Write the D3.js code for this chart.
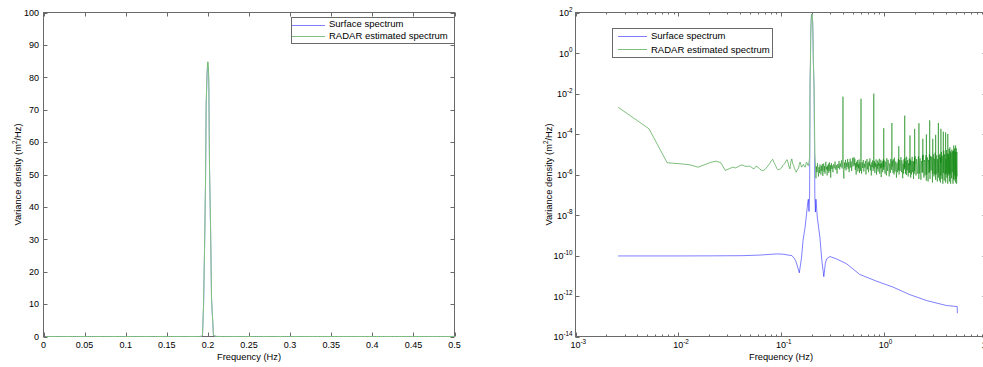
<!DOCTYPE html>
<html>
<head>
<meta charset="utf-8">
<script src="https://cdn.jsdelivr.net/npm/d3@7"></script>
<style>
  html, body { margin: 0; padding: 0; background: #fff; }
  text { font-family: "Liberation Sans", Arial, Helvetica, sans-serif; fill: #000; }
</style>
</head>
<body>
<svg id="chart" width="983" height="367"></svg>
<script>
// Spectra: [frequency (Hz), variance density (m^2/Hz)]
const surfaceSpectrum = [
  [0.0026,9.5e-11],[0.0052,9.5e-11],[0.0104,9.5e-11],[0.0208,9.6e-11],[0.0416,9.8e-11],
  [0.0624,1.05e-10],[0.0806,1.15e-10],[0.0936,1.2e-10],[0.1066,1.15e-10],[0.1170,1.05e-10],
  [0.1274,1.0e-10],[0.1352,7.0e-11],[0.1404,4.7e-11],[0.1456,2.6e-11],[0.1508,1.4e-11],
  [0.1586,8.3e-11],[0.1638,5.5e-10],[0.1716,2.5e-9],[0.1768,1.0e-8],[0.1820,4.0e-8],
  [0.1846,6.0e-8],[0.1872,1.5e-8],[0.1898,8.5e-8],
  [0.1920,0.04],[0.1934,0.25],[0.1947,9],[0.1959,26],[0.1971,47],[0.1979,71],[0.1990,81],
  [0.2000,83.5],[0.2007,82],[0.2012,76],[0.2020,51],[0.2032,34],[0.2044,11.5],[0.2068,0.25],
  [0.2100,0.015],[0.2136,8.0e-8],[0.2162,1.4e-8],[0.2188,6.0e-8],[0.2254,8.0e-9],
  [0.2390,8.0e-10],[0.2500,5.6e-11],[0.2610,9.0e-12],[0.2700,4.0e-11],[0.2780,6.8e-11],
  [0.2990,8.9e-11],[0.3462,6.8e-11],[0.4348,3.9e-11],[0.5856,1.15e-11],[0.8506,5.4e-12],
  [1.23,2.75e-12],[1.79,1.17e-12],[2.60,6.0e-13],[4.06,3.4e-13],[5.19,3.0e-13],[5.20,1.4e-13]
];

const radarSpectrum = [
  [0.0026,2.1e-3],[0.0052,1.8e-4],[0.0078,3.8e-6],[0.0104,3.4e-6],[0.0130,3.0e-6],
  [0.0156,2.3e-6],[0.0182,3.1e-6],[0.0208,4.0e-6],[0.0234,4.6e-6],[0.0260,3.8e-6],
  [0.0286,1.6e-6],[0.0312,1.9e-6],[0.0338,2.3e-6],[0.0364,2.1e-6],[0.0390,2.6e-6],
  [0.0416,3.0e-6],[0.0442,2.6e-6],[0.0468,2.5e-6],[0.0494,2.6e-6],[0.0520,2.2e-6],
  [0.0546,1.9e-6],[0.0572,2.6e-6],[0.0598,2.3e-6],[0.0624,1.8e-6],[0.0650,1.6e-6],
  [0.0676,1.6e-6],[0.0702,1.8e-6],[0.0728,2.3e-6],[0.0754,2.8e-6],[0.0780,3.6e-6],
  [0.0806,4.8e-6],[0.0832,5.6e-6],[0.0858,3.8e-6],[0.0884,2.8e-6],[0.0910,2.0e-6],
  [0.0936,1.7e-6],[0.0962,1.8e-6],[0.0988,1.9e-6],[0.1014,2.1e-6],[0.1040,2.8e-6],
  [0.1066,3.2e-6],[0.1092,3.6e-6],[0.1118,4.6e-6],[0.1144,5.4e-6],[0.1170,4.0e-6],
  [0.1196,2.4e-6],[0.1222,1.9e-6],[0.1248,4.2e-6],[0.1274,5.9e-6],[0.1300,3.5e-6],
  [0.1326,2.8e-6],[0.1352,2.0e-6],[0.1378,1.6e-6],[0.1404,1.3e-6],[0.1430,1.6e-6],
  [0.1456,1.9e-6],[0.1482,2.0e-6],[0.1508,3.2e-6],[0.1534,4.1e-6],[0.1560,3.0e-6],
  [0.1586,2.3e-6],[0.1612,2.6e-6],[0.1638,3.1e-6],[0.1664,3.0e-6],[0.1690,2.5e-6],
  [0.1716,2.3e-6],[0.1742,3.0e-6],[0.1768,4.0e-6],[0.1794,3.8e-6],[0.1820,2.9e-6],
  [0.1846,2.7e-6],[0.1872,4.0e-6],[0.1898,7.1e-6],
  [0.1920,0.05],[0.1934,0.3],[0.1947,10],[0.1959,27],[0.1971,48],[0.1979,72],[0.1990,82],
  [0.2000,84.8],[0.2007,83],[0.2012,76.6],[0.2020,52],[0.2032,35],[0.2044,12],[0.2068,0.3],
  [0.2100,0.02],[0.2136,1.0e-5],
  [0.2162,3.2e-6],[0.2188,6.5e-7],[0.2214,2.5e-6],[0.2240,1.3e-6],[0.2266,3.6e-6],
  [0.2292,1.7e-6],[0.2318,8.0e-7],[0.2344,2.3e-6],[0.2370,1.2e-6],[0.2396,3.1e-6],
  [0.2422,1.9e-6],[0.2448,1.0e-6],[0.2474,2.7e-6],[0.2500,1.5e-6],[0.2526,3.3e-6],
  [0.2552,8.5e-7],[0.2578,2.0e-6],[0.2604,3.5e-6],[0.2630,1.4e-6],[0.2656,2.6e-6],
  [0.2682,1.1e-6],[0.2708,2.9e-6],[0.2734,4.3e-6],[0.2760,1.8e-6],[0.2786,2.4e-6],
  [0.2812,9.0e-7],[0.2838,2.7e-6],[0.2864,1.6e-6],[0.2890,3.4e-6],[0.2916,1.2e-6],
  [0.2942,2.2e-6],[0.2968,4.0e-6],[0.2994,1.5e-6],[0.3020,2.9e-6],[0.3046,7.0e-7],
  [0.3072,2.3e-6],[0.3098,3.6e-6],[0.3124,1.9e-6],[0.3150,2.8e-6],[0.3202,1.3e-6],
  [0.3254,3.2e-6],[0.3306,2.0e-6],[0.3358,4.4e-6],[0.3410,1.7e-6],[0.3462,2.9e-6],
  [0.3514,1.1e-6],[0.3566,3.3e-6],[0.3618,2.1e-6],[0.3670,4.6e-6],[0.3722,1.8e-6],
  [0.3774,3.5e-6],[0.3826,2.4e-6],[0.3878,5.0e-6],[0.3930,2.0e-6],[0.3982,3.7e-6],
  [0.4010,7.0e-3],[0.4036,2.2e-6],[0.4088,6.3e-7],[0.4140,3.9e-6],[0.4192,2.0e-6],
  [0.4244,5.3e-6],[0.4296,1.6e-6],[0.4348,3.8e-6],[0.4400,2.4e-6],[0.4452,5.8e-6],
  [0.4504,1.9e-6],[0.4556,4.1e-6],[0.4608,1.3e-6],[0.4660,3.5e-6],[0.4712,6.1e-6],
  [0.4764,2.2e-6],[0.4816,4.4e-6],[0.4868,1.5e-6],[0.4920,3.2e-6],[0.4972,6.6e-6],
  [0.5024,2.5e-6],[0.5076,4.0e-6],[0.5128,7.2e-6],[0.5180,2.8e-6],[0.5232,6.0e-6],
  [0.5284,1.7e-6],[0.5336,3.6e-6],[0.5388,1.0e-6],[0.5440,4.2e-6],[0.5492,2.3e-6],
  [0.5544,5.1e-6],[0.5596,1.4e-6],[0.5648,3.3e-6],[0.5700,2.0e-6],[0.5752,5.5e-6],
  [0.5804,1.2e-6],[0.5856,3.9e-6],[0.5908,2.6e-6],[0.5960,1.5e-6],
  [0.6010,5.5e-3],[0.6036,2.4e-6],[0.6088,1.1e-6],[0.6166,4.0e-6],[0.6244,2.1e-6],
  [0.6322,5.2e-6],[0.6400,1.4e-6],[0.6478,3.4e-6],[0.6556,2.2e-6],[0.6634,4.7e-6],
  [0.6712,1.0e-6],[0.6790,3.0e-6],[0.6868,5.8e-6],[0.6946,1.8e-6],[0.7024,3.9e-6],
  [0.7102,1.3e-6],[0.7180,4.4e-6],[0.7258,2.6e-6],[0.7336,6.2e-6],[0.7414,1.6e-6],
  [0.7492,3.1e-6],[0.7570,9.0e-7],[0.7648,4.0e-6],[0.7726,2.3e-6],[0.7804,5.0e-6],
  [0.7882,1.5e-6],[0.7960,3.5e-6],
  [0.8000,9.8e-3],[0.8038,2.0e-6],[0.8116,4.6e-6],[0.8194,1.2e-6],[0.8272,3.7e-6],
  [0.8350,2.4e-6],[0.8428,5.6e-6],[0.8506,1.0e-6],[0.8584,3.2e-6],[0.8662,1.9e-6],
  [0.8740,4.9e-6],[0.8818,1.4e-6],[0.8896,3.8e-6],[0.8974,2.7e-6],[0.9052,6.0e-6],
  [0.9130,1.1e-6],[0.9208,3.3e-6],[0.9286,2.0e-6],[0.9364,5.3e-6],[0.9442,7.5e-7],
  [0.9520,3.6e-6],[0.9598,2.2e-6],[0.9676,4.5e-6],[0.9754,1.3e-6],[0.9832,3.0e-6],
  [0.9910,5.7e-6],[0.9970,1.7e-6],
  [1.000,1.95e-4],[1.003,2.3e-6],[1.010,5.0e-6],[1.020,1.6e-6],[1.030,1.1e-6],
  [1.040,4.3e-6],[1.050,3.6e-6],[1.060,9.0e-7],[1.070,6.4e-6],[1.080,2.7e-6],
  [1.090,1.5e-6],[1.100,5.3e-6],[1.110,4.2e-6],[1.120,1.9e-6],[1.130,8.0e-7],
  [1.140,3.5e-6],[1.150,2.9e-6],[1.160,1.2e-6],[1.170,5.9e-6],[1.180,3.1e-6],
  [1.190,1.7e-6],[1.197,3.0e-6],[1.200,3.5e-4],[1.203,2.5e-6],[1.210,4.8e-6],
  [1.220,2.0e-6],[1.230,1.2e-6],[1.240,5.6e-6],[1.250,3.3e-6],[1.260,1.0e-6],
  [1.270,6.8e-6],[1.280,2.6e-6],[1.290,1.4e-6],[1.300,4.0e-6],[1.310,4.4e-6],
  [1.320,1.8e-6],[1.330,7.0e-7],[1.340,3.2e-6],[1.350,3.8e-6],[1.360,1.3e-6],
  [1.370,2.1e-6],[1.380,4.9e-6],[1.390,6.0e-6],[1.397,1.6e-6],[1.400,2.5e-5],
  [1.403,3.2e-6],[1.410,1.0e-6],[1.420,4.6e-6],[1.430,5.2e-6],[1.440,1.5e-6],
  [1.450,2.4e-6],[1.460,3.9e-6],[1.470,7.2e-6],[1.480,2.2e-6],[1.490,1.3e-6],
  [1.500,5.0e-6],[1.510,4.0e-6],[1.520,1.7e-6],[1.530,6.5e-7],[1.540,3.4e-6],
  [1.550,3.1e-6],[1.560,1.1e-6],[1.570,5.6e-6],[1.580,2.9e-6],[1.590,1.8e-6],
  [1.597,4.4e-6],[1.600,8.1e-4],[1.603,2.2e-6],[1.610,6.6e-6],[1.620,2.4e-6],
  [1.630,1.1e-6],[1.640,4.5e-6],[1.650,3.7e-6],[1.660,9.5e-7],[1.670,7.6e-6],
  [1.680,2.8e-6],[1.690,1.6e-6],[1.700,5.2e-6],[1.710,4.9e-6],[1.720,1.4e-6],
  [1.730,8.0e-7],[1.740,3.6e-6],[1.750,3.4e-6],[1.760,1.2e-6],[1.770,6.2e-6],
  [1.780,2.5e-6],[1.790,1.2e-6],[1.797,3.9e-6],[1.800,8.5e-5],[1.803,2.8e-6],
  [1.810,5.4e-6],[1.820,2.1e-6],[1.830,7.0e-7],[1.840,4.7e-6],[1.850,4.1e-6],
  [1.860,1.0e-6],[1.870,2.0e-6],[1.880,5.5e-6],[1.890,7.4e-6],[1.900,2.3e-6],
  [1.910,1.3e-6],[1.920,3.8e-6],[1.930,4.6e-6],[1.940,1.6e-6],[1.950,6.0e-7],
  [1.960,4.2e-6],[1.970,3.5e-6],[1.980,1.1e-6],[1.990,6.9e-6],[1.997,1.5e-6],
  [2.000,1.8e-4],[2.003,3.3e-6],[2.02,8.0e-6],[2.04,2.6e-6],[2.06,9.0e-7],
  [2.08,5.8e-6],[2.10,4.5e-6],[2.12,1.1e-6],[2.14,1.5e-6],[2.16,6.4e-6],
  [2.18,7.8e-6],[2.19,2.0e-6],[2.197,6.0e-7],[2.200,3.4e-4],[2.203,5.0e-6],
  [2.22,1.1e-6],[2.24,3.4e-6],[2.26,6.3e-6],[2.28,1.8e-6],[2.30,5.5e-7],
  [2.32,4.6e-6],[2.34,3.8e-6],[2.36,1.3e-6],[2.38,8.5e-6],[2.39,3.0e-6],
  [2.397,1.2e-6],[2.400,5.8e-5],[2.403,4.2e-6],[2.42,9.5e-6],[2.44,2.2e-6],
  [2.46,7.0e-7],[2.48,4.1e-6],[2.50,5.2e-6],[2.52,9.0e-7],[2.54,1.4e-6],
  [2.56,6.6e-6],[2.58,9.0e-6],[2.59,2.4e-6],[2.597,5.0e-7],[2.600,9.5e-5],
  [2.603,4.0e-6],[2.62,1.0e-6],[2.64,5.0e-6],[2.66,7.0e-6],[2.68,1.9e-6],
  [2.70,4.5e-7],[2.72,5.3e-6],[2.74,3.6e-6],[2.76,1.2e-6],[2.78,1.0e-5],
  [2.79,3.3e-6],[2.797,1.3e-6],[2.800,4.7e-4],[2.803,6.0e-6],[2.82,6.0e-7],
  [2.84,3.9e-6],[2.86,8.2e-6],[2.88,2.1e-6],[2.90,1.6e-6],[2.92,7.4e-6],
  [2.94,5.6e-6],[2.96,1.4e-6],[2.98,4.0e-7],[2.99,4.4e-6],[2.997,7.5e-6],
  [3.000,5.8e-5],[3.003,1.1e-6],[3.02,4.8e-6],[3.04,9.8e-6],[3.06,2.7e-6],
  [3.08,8.0e-7],[3.10,6.0e-6],[3.12,4.8e-6],[3.14,1.0e-6],[3.16,1.2e-5],
  [3.18,3.1e-6],[3.19,9.0e-7],[3.197,5.5e-7],[3.200,9.1e-5],[3.203,6.6e-6],
  [3.22,2.3e-6],[3.24,1.0e-6],[3.26,6.9e-6],[3.28,8.8e-6],[3.30,1.7e-6],
  [3.32,4.5e-7],[3.34,5.7e-6],[3.36,4.2e-6],[3.38,1.2e-6],[3.397,1.1e-5],
  [3.400,3.5e-4],[3.403,7.0e-7],[3.42,3.0e-6],[3.44,5.8e-6],[3.46,9.0e-6],
  [3.48,1.4e-6],[3.50,5.0e-7],[3.52,1.05e-5],[3.54,3.7e-6],[3.56,4.0e-7],
  [3.58,7.0e-6],[3.597,3.8e-6],[3.600,1.8e-4],[3.603,9.0e-7],[3.62,4.4e-6],
  [3.64,1.3e-5],[3.66,2.0e-6],[3.68,6.0e-7],[3.70,8.6e-6],[3.72,6.5e-6],
  [3.74,1.5e-6],[3.76,3.5e-7],[3.78,4.8e-6],[3.797,9.0e-6],[3.800,1.3e-4],
  [3.803,1.2e-6],[3.82,5.2e-6],[3.84,1.5e-5],[3.86,2.4e-6],[3.88,5.0e-7],
  [3.90,9.8e-6],[3.92,7.2e-6],[3.94,1.8e-6],[3.96,1.0e-6],[3.98,6.3e-6],
  [3.997,1.1e-5],[4.000,1.2e-4],[4.003,4.0e-7],[4.02,3.3e-6],[4.04,6.0e-6],
  [4.06,1.1e-6],[4.08,1.6e-5],[4.10,4.6e-6],[4.12,7.0e-7],[4.14,1.1e-5],
  [4.16,8.5e-6],[4.18,1.6e-6],[4.197,3.5e-7],[4.200,1.0e-4],[4.203,1.2e-5],
  [4.22,3.6e-6],[4.24,9.0e-7],[4.26,1.0e-5],[4.28,5.5e-6],[4.30,1.2e-6],
  [4.32,1.8e-5],[4.34,2.9e-6],[4.36,4.5e-7],[4.38,6.4e-6],[4.397,7.8e-6],
  [4.400,2.2e-5],[4.403,1.0e-6],[4.42,5.8e-6],[4.44,1.4e-5],[4.46,2.2e-6],
  [4.48,3.5e-7],[4.50,1.2e-5],[4.52,9.5e-6],[4.54,1.9e-6],[4.56,6.5e-7],
  [4.58,7.6e-6],[4.60,1.7e-5],[4.62,3.4e-6],[4.64,1.3e-6],[4.66,1.4e-5],
  [4.68,8.0e-6],[4.70,1.0e-6],[4.72,3.5e-7],[4.74,6.8e-6],[4.76,1.5e-5],
  [4.78,2.7e-6],[4.797,6.0e-7],[4.800,2.7e-5],[4.803,1.1e-5],[4.82,3.0e-6],
  [4.84,5.0e-7],[4.86,9.2e-6],[4.88,1.9e-5],[4.90,2.0e-6],[4.92,9.0e-7],
  [4.94,1.3e-5],[4.96,1.1e-5],[4.98,1.5e-6],[4.997,4.0e-7],[5.000,2.7e-5],
  [5.003,1.6e-5],[5.02,3.8e-6],[5.04,6.0e-7],[5.06,1.0e-5],[5.08,2.0e-5],
  [5.10,2.4e-6],[5.12,3.5e-7],[5.14,8.0e-6],[5.16,1.3e-5],[5.18,1.8e-6],
  [5.20,8.0e-7]
];

const seriesNames = ["Surface spectrum", "RADAR estimated spectrum"];
const seriesColors = ["#0000ff", "#008000"];

// Axis ticks
const linearFreqTicks = [0, 0.05, 0.1, 0.15, 0.2, 0.25, 0.3, 0.35, 0.4, 0.45, 0.5];
const linearFreqLabels = ["0", "0.05", "0.1", "0.15", "0.2", "0.25", "0.3", "0.35", "0.4", "0.45", "0.5"];
const linearDensityTicks = [0, 10, 20, 30, 40, 50, 60, 70, 80, 90, 100];
const linearDensityLabels = ["0", "10", "20", "30", "40", "50", "60", "70", "80", "90", "100"];
const logFreqTicks = [1e-3, 1e-2, 1e-1, 1e0, 1e1];
const logFreqExponents = ["-3", "-2", "-1", "0", "1"];
const logDensityTicks = [1e2, 1e0, 1e-2, 1e-4, 1e-6, 1e-8, 1e-10, 1e-12, 1e-14];
const logDensityExponents = ["2", "0", "-2", "-4", "-6", "-8", "-10", "-12", "-14"];

const xLabel = "Frequency (Hz)";
const yLabelMain = "Variance density (m";
const yLabelSup = "2";
const yLabelTail = "/Hz)";

const svg = d3.select("#chart");
const AXIS_COLOR = "#6a6a6a";
const TICK_FONT = 9;
const LABEL_FONT = 9.3;

function makePanel(id, left, right, top, bottom) {
  const g = svg.append("g");
  svg.append("clipPath").attr("id", id)
    .append("rect")
    .attr("x", left - 0.5).attr("y", top - 1)
    .attr("width", right - left + 1).attr("height", bottom - top + 1.5);
  return g;
}

// Each segment is its own stroke so that dense stretches build up colour.
function drawSeries(plot, data, x, y, color, knockout) {
  if (knockout) {
    // hide whatever is underneath this trace
    plot.append("path")
      .datum(data)
      .attr("d", d3.line().x(d => x(d[0])).y(d => y(d[1])))
      .attr("fill", "none").attr("stroke", "#fff").attr("stroke-width", 1);
  }
  plot.append("g")
    .selectAll("line")
    .data(d3.pairs(data))
    .join("line")
    .attr("x1", d => x(d[0][0])).attr("y1", d => y(d[0][1]))
    .attr("x2", d => x(d[1][0])).attr("y2", d => y(d[1][1]))
    .attr("stroke", color)
    .attr("stroke-opacity", 0.5)
    .attr("stroke-width", 1);
}

function drawBox(g, left, right, top, bottom) {
  g.append("rect")
    .attr("x", left).attr("y", top)
    .attr("width", right - left).attr("height", bottom - top)
    .attr("fill", "none").attr("stroke", AXIS_COLOR).attr("stroke-width", 1);
}

function xTicks(g, vals, x, top, bottom, len) {
  const t = g.append("g").attr("stroke", AXIS_COLOR).attr("stroke-width", 1);
  vals.forEach(v => {
    const px = Math.round(x(v)) + 0.5;
    t.append("line").attr("x1", px).attr("x2", px).attr("y1", bottom).attr("y2", bottom - len);
    t.append("line").attr("x1", px).attr("x2", px).attr("y1", top).attr("y2", top + len);
  });
}

function yTicks(g, vals, y, left, right, len) {
  const t = g.append("g").attr("stroke", AXIS_COLOR).attr("stroke-width", 1);
  vals.forEach(v => {
    const py = Math.round(y(v)) + 0.5;
    t.append("line").attr("y1", py).attr("y2", py).attr("x1", left).attr("x2", left + len);
    t.append("line").attr("y1", py).attr("y2", py).attr("x1", right).attr("x2", right - len);
  });
}

function axisTitles(g, cx, cy, yx) {
  g.append("text")
    .attr("x", cx).attr("y", 360)
    .attr("text-anchor", "middle")
    .style("font-size", LABEL_FONT + "px")
    .text(xLabel);
  const yt = g.append("text")
    .attr("transform", `translate(${yx},${cy}) rotate(-90)`)
    .attr("text-anchor", "middle")
    .style("font-size", LABEL_FONT + "px");
  yt.append("tspan").text(yLabelMain);
  yt.append("tspan").attr("dy", -3.5).style("font-size", "6.5px").text(yLabelSup);
  yt.append("tspan").attr("dy", 3.5).text(yLabelTail);
}

function legend(g, box, rows) {
  g.append("rect")
    .attr("x", box.x).attr("y", box.y).attr("width", box.w).attr("height", box.h)
    .attr("fill", "#fff").attr("stroke", AXIS_COLOR).attr("stroke-width", 1);
  seriesNames.forEach((name, i) => {
    g.append("line")
      .attr("x1", rows.lx1).attr("x2", rows.lx2)
      .attr("y1", rows.ly[i]).attr("y2", rows.ly[i])
      .attr("stroke", seriesColors[i]).attr("stroke-opacity", 0.5).attr("stroke-width", 1);
    g.append("text")
      .attr("x", rows.tx).attr("y", rows.ty[i])
      .style("font-size", "9.5px")
      .text(name);
  });
}

// ---------- Linear panel ----------
{
  const left = 43.5, right = 454.5, top = 12.5, bottom = 336.5;
  const x = d3.scaleLinear().domain(d3.extent(linearFreqTicks)).range([left, right]);
  const y = d3.scaleLinear().domain(d3.extent(linearDensityTicks)).range([bottom, top]);
  const g = makePanel("clipLin", left, right, top, bottom);

  drawBox(g, left, right, top, bottom);
  xTicks(g, linearFreqTicks, x, top, bottom, 4);
  yTicks(g, linearDensityTicks, y, left, right, 4);

  g.append("g").selectAll("text").data(linearFreqTicks).join("text")
    .attr("x", d => x(d)).attr("y", 348)
    .attr("text-anchor", "middle")
    .style("font-size", TICK_FONT + "px")
    .text((d, i) => linearFreqLabels[i]);
  g.append("g").selectAll("text").data(linearDensityTicks).join("text")
    .attr("x", left - 4.5).attr("y", d => y(d) + 3.3)
    .attr("text-anchor", "end")
    .style("font-size", TICK_FONT + "px")
    .text((d, i) => linearDensityLabels[i]);

  const plot = g.append("g").attr("clip-path", "url(#clipLin)");
  drawSeries(plot, surfaceSpectrum, x, y, seriesColors[0], false);
  drawSeries(plot, radarSpectrum, x, y, seriesColors[1], true);

  axisTitles(g, (left + right) / 2, (top + bottom) / 2, 20.5);
  legend(g, { x: 291.5, y: 17.5, w: 163, h: 26 },
    { lx1: 292, lx2: 325, ly: [25.5, 36.5], tx: 329, ty: [27, 39] });
}

// ---------- Logarithmic panel ----------
{
  const left = 575.5, right = 986.5, top = 12.5, bottom = 336.5;
  const x = d3.scaleLog().domain(d3.extent(logFreqTicks)).range([left, right]);
  const y = d3.scaleLog().domain(d3.extent(logDensityTicks)).range([bottom, top]);
  const g = makePanel("clipLog", left, right, top, bottom);

  const isDecade = v => Math.abs(Math.log10(v) - Math.round(Math.log10(v))) < 1e-9;
  const minor = x.ticks().filter(v => !isDecade(v));

  drawBox(g, left, right, top, bottom);
  xTicks(g, logFreqTicks, x, top, bottom, 4);
  xTicks(g, minor, x, top, bottom, 2);
  yTicks(g, logDensityTicks, y, left, right, 4);

  // x tick labels: "10" centred on the tick, exponent to its right
  logFreqTicks.forEach((v, i) => {
    const t = g.append("text")
      .attr("x", x(v) - 5).attr("y", 348)
      .style("font-size", TICK_FONT + "px");
    t.append("tspan").text("10");
    t.append("tspan").attr("dy", -4.5).style("font-size", "6.3px").text(logFreqExponents[i]);
  });
  // y tick labels
  logDensityTicks.forEach((v, i) => {
    const t = g.append("text")
      .attr("x", left - 3).attr("y", y(v) + 3.5)
      .attr("text-anchor", "end")
      .style("font-size", TICK_FONT + "px");
    t.append("tspan").text("10");
    t.append("tspan").attr("dy", -4.5).style("font-size", "6.3px").text(logDensityExponents[i]);
  });

  const plot = g.append("g").attr("clip-path", "url(#clipLog)");
  drawSeries(plot, surfaceSpectrum, x, y, seriesColors[0], false);
  drawSeries(plot, radarSpectrum, x, y, seriesColors[1], true);

  axisTitles(g, (left + right) / 2, (top + bottom) / 2, 551.5);
  legend(g, { x: 612.5, y: 28.5, w: 160, h: 29 },
    { lx1: 618, lx2: 647, ly: [36.5, 49.5], tx: 651, ty: [39, 52.5] });
}
</script>
</body>
</html>
